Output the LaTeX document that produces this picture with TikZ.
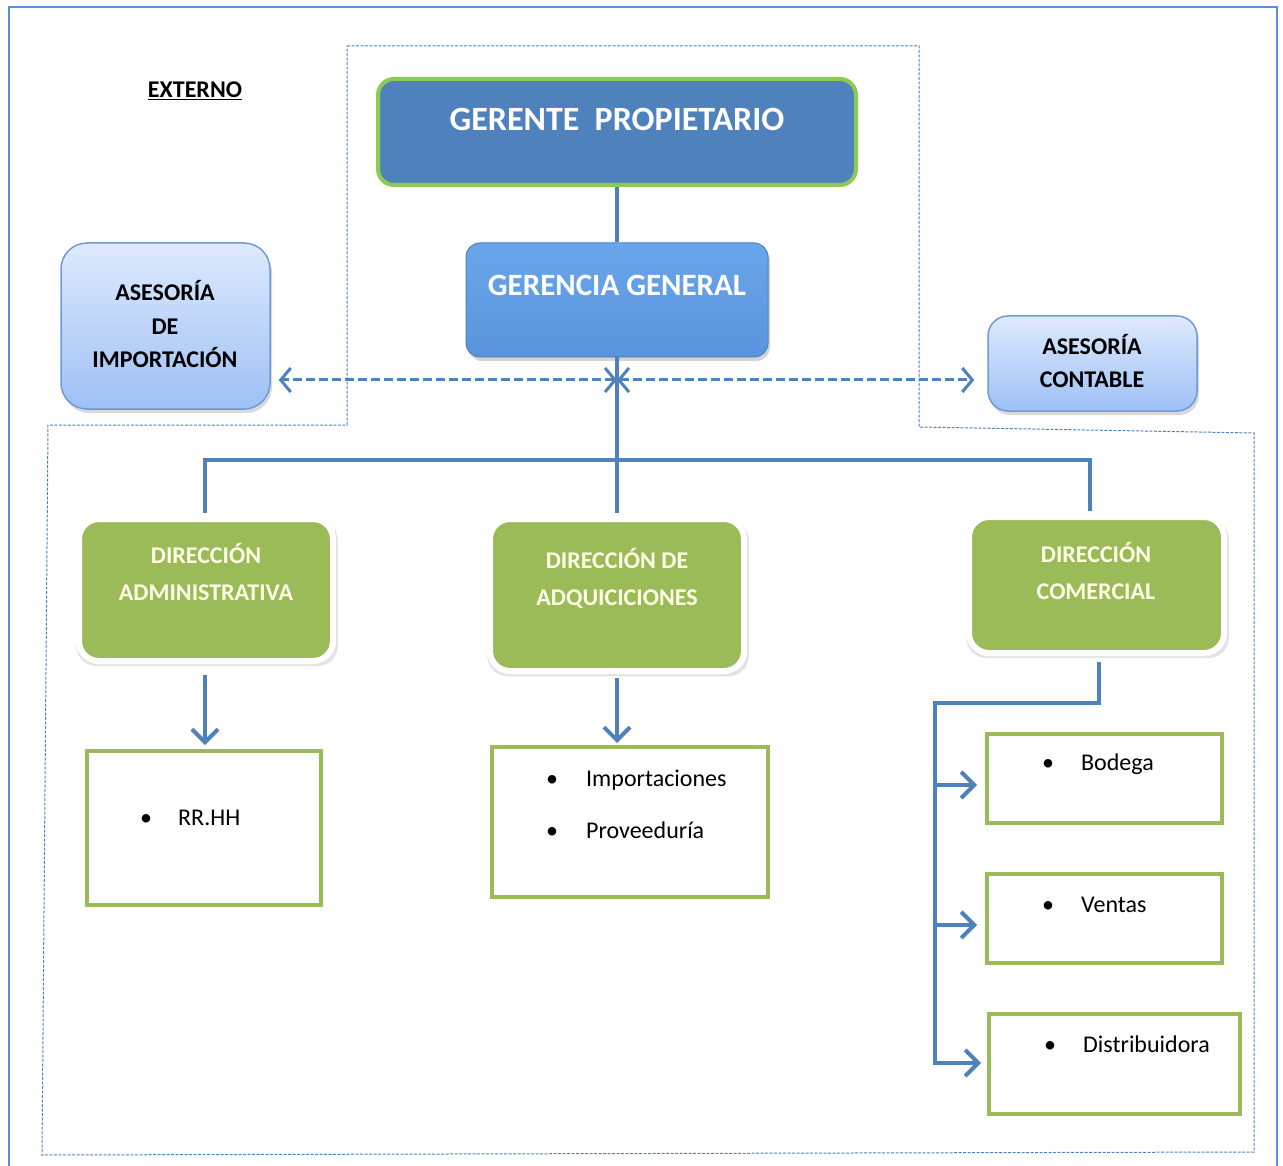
\documentclass[tikz,border=0pt]{standalone}
\usepackage{fontspec}
\setmainfont{Carlito}
\usetikzlibrary{arrows.meta,shadows}
\definecolor{linkblue}{HTML}{4F81BD}
\definecolor{ownerfill}{HTML}{4F81BD}
\definecolor{ownerrim}{HTML}{8CCB50}
\definecolor{mgrtop}{HTML}{6AA6EC}
\definecolor{mgrbot}{HTML}{5A94DC}
\definecolor{advtop}{HTML}{DEEAFD}
\definecolor{advbot}{HTML}{9EC0F6}
\definecolor{advrim}{HTML}{6E9BD6}
\definecolor{leafgreen}{HTML}{9BBB59}
\definecolor{cream}{HTML}{FFFFE8}
\definecolor{framebl}{HTML}{5D8FD8}
\begin{document}
\begin{tikzpicture}[x=1pt,y=-1pt,
  link/.style={draw=linkblue,line width=4pt},
  arrowlink/.style={link,-{Straight Barb[length=13pt,width=26pt]}},
  dasharrow/.style={draw=linkblue,line width=3pt,dash pattern=on 9pt off 4pt,
    {Straight Barb[length=10pt,width=24pt]}-{Straight Barb[length=10pt,width=24pt]}},
  ownerbox/.style={rounded corners=16pt,fill=ownerfill,draw=ownerrim,line width=4pt,inner sep=0pt},
  mgrbox/.style={rounded corners=14pt,top color=mgrtop,bottom color=mgrbot,draw=linkblue,line width=1pt,inner sep=0pt,
    drop shadow={shadow xshift=2pt,shadow yshift=-4pt,opacity=0.35}},
  advbox/.style={top color=advtop,bottom color=advbot,draw=advrim,line width=1.5pt,inner sep=0pt,
    drop shadow={shadow xshift=2pt,shadow yshift=-4pt,opacity=0.3}},
  deptbox/.style={rounded corners=20pt,fill=leafgreen,draw=white,line width=6pt,inner sep=0pt,
    drop shadow={shadow xshift=1pt,shadow yshift=-3pt,shadow scale=1.03,opacity=0.22}},
  listbox/.style={draw=leafgreen,line width=4pt,fill=white,inner sep=0pt},
  headtext/.style={font=\bfseries\fontsize{34}{40}\selectfont,text=white,inner sep=0pt},
  mgrtext/.style={font=\bfseries\fontsize{31}{36}\selectfont,text=white,inner sep=0pt},
  advtext/.style={font=\bfseries\fontsize{24}{33.5}\selectfont,align=center,inner sep=0pt},
  depttext/.style={font=\bfseries\fontsize{24}{37}\selectfont,text=cream,align=center,inner sep=0pt},
  itemtext/.style={font=\fontsize{24}{52}\selectfont,align=left,inner sep=0pt},
]
\useasboundingbox (0,0) rectangle (1283,1166);

% page frame, open at the bottom
\draw[framebl,line width=2pt] (9,1166) -- (9,7) -- (1277,7) -- (1277,1166);

% dotted boundary of the internal organisation
\draw[linkblue,line width=1pt,dash pattern=on 3pt off 1.5pt]
  (347,46) -- (919,46) -- (919,427) -- (1254,433) -- (1254,1152)
  -- (42,1155) -- (48,425) -- (347,425) -- cycle;

\node[font=\bfseries\fontsize{24}{28}\selectfont,anchor=base,inner sep=0pt] (ext) at (195,98) {\underline{EXTERNO}};

% top management
\node[ownerbox,minimum width=478pt,minimum height=106pt] (gp) at (617,132) {};
\node[headtext,anchor=base] (gpt) at (617,131) {GERENTE\hspace{0.45em}PROPIETARIO};
\node[mgrbox,minimum width=302pt,minimum height=114pt] (gg) at (617,300) {};
\node[mgrtext,anchor=base] (ggt) at (617,296) {GERENCIA GENERAL};

% external advisors (base anchor = baseline of the last line)
\node[advbox,rounded corners=26pt,minimum width=209pt,minimum height=166pt] (ai) at (165.5,326) {};
\node[advtext,anchor=base] (ait) at (165,368) {ASESORÍA\\DE\\IMPORTACIÓN};
\node[advbox,rounded corners=20pt,minimum width=209pt,minimum height=95pt] (ac) at (1092.5,363.5) {};
\node[advtext,anchor=base] (act) at (1092,388) {ASESORÍA\\CONTABLE};

% departments
\node[deptbox,minimum width=254pt,minimum height=142pt] (da) at (206,590) {};
\node[depttext,anchor=base] (dat) at (206,600) {DIRECCIÓN\\ADMINISTRATIVA};
\node[deptbox,minimum width=254pt,minimum height=152pt] (dq) at (617,595) {};
\node[depttext,anchor=base] (dqt) at (617,605) {DIRECCIÓN DE\\ADQUICICIONES};
\node[deptbox,minimum width=255pt,minimum height=136pt] (dc) at (1096.5,585) {};
\node[depttext,anchor=base] (dct) at (1096,599) {DIRECCIÓN\\COMERCIAL};

% units
\node[listbox,minimum width=234pt,minimum height=154pt] (rh) at (204,828) {};
\node[itemtext,anchor=base west] (rht) at (140,825) {\makebox[38pt][l]{•}RR.HH};
\node[listbox,minimum width=276pt,minimum height=150pt] (ip) at (630,822) {};
\node[itemtext,anchor=base west] (ipt) at (546,838) {\makebox[40pt][l]{•}Importaciones\\\makebox[40pt][l]{•}Proveeduría};
\node[listbox,minimum width=235pt,minimum height=89pt] (bo) at (1104.5,778.5) {};
\node[itemtext,anchor=base west] (bot) at (1042,770) {\makebox[39pt][l]{•}Bodega};
\node[listbox,minimum width=235pt,minimum height=89pt] (ve) at (1104.5,918.5) {};
\node[itemtext,anchor=base west] (vet) at (1042,912) {\makebox[39pt][l]{•}Ventas};
\node[listbox,minimum width=251pt,minimum height=100pt] (di) at (1114.5,1064) {};
\node[itemtext,anchor=base west] (dit) at (1044,1052) {\makebox[39pt][l]{•}Distribuidora};

% reporting lines
\coordinate (hub) at (617,460);
\coordinate (mid) at (617,380);
\coordinate (ldrop) at (205,460);
\coordinate (rdrop) at (1090,460);
\draw[link] (gp.south) -- (gg.north);
\draw[link,shorten >=3pt] (gg.south) -- (dq.north);
\draw[link,line join=miter,shorten <=3pt,shorten >=3pt] (ldrop |- da.north) -- (ldrop) -- (rdrop) -- (rdrop |- dc.north);

% advisory links
\draw[dasharrow,shorten >=8pt] (mid) -- (ai.east |- mid);
\draw[dasharrow,shorten >=13pt] (mid) -- (ac.west |- mid);

% department to unit arrows
\draw[arrowlink,shorten <=11pt,shorten >=4pt] (ldrop |- da.south) -- (ldrop |- rh.north);
\draw[arrowlink,shorten <=4pt,shorten >=2pt] (dq.south) -- (dq.south |- ip.north);

\coordinate (spinetop) at (935,703);
\coordinate (spinebot) at (935,1065);
\coordinate (s1) at (935,785);
\coordinate (s2) at (935,925);
\coordinate (s3) at (935,1063);
\draw[link,line join=miter] ([xshift=2.5pt,yshift=-6pt]dc.south) |- (spinetop) -- (spinebot);
\draw[arrowlink,shorten >=8pt] (s1) -- (bo.west |- s1);
\draw[arrowlink,shorten >=8pt] (s2) -- (ve.west |- s2);
\draw[arrowlink,shorten >=6pt] (s3) -- (di.west |- s3);
\end{tikzpicture}
\end{document}
